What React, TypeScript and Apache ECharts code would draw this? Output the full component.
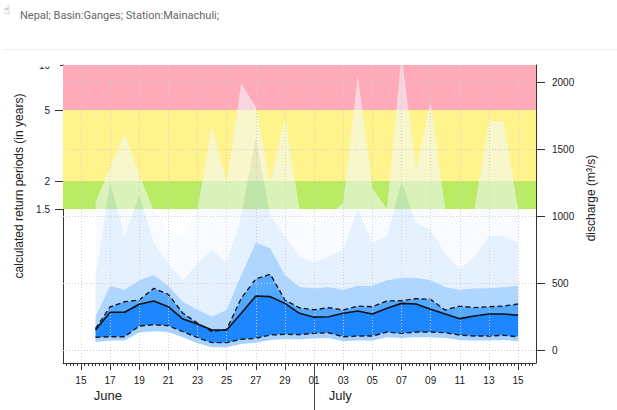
import React, { useEffect, useRef } from 'react';
import * as echarts from 'echarts';

// ---- Text ----
const titleText = 'Nepal; Basin:Ganges; Station:Mainachuli;';
const leftAxisName = 'calculated return periods (in years)';
const rightAxisName = 'discharge (m³/s)';

// ---- X axis (days since 15 June) ----
const xMin = -1.23;
const xMax = 31.23;
const dayTickOffsets = [0, 2, 4, 6, 8, 10, 12, 14, 16, 18, 20, 22, 24, 26, 28, 30];
const dayTickLabels = ['15', '17', '19', '21', '23', '25', '27', '29', '01', '03', '05', '07', '09', '11', '13', '15'];
const monthNames = ['June', 'July'];
const monthLabelOffsets = [1.85, 17.8];
const monthBoundaries = [16];

// ---- Y axes ----
const yMin = -97;
const yMax = 2127;
const dischargeTicks = [0, 500, 1000, 1500, 2000];
const returnPeriods = ['1.5', '2', '5', '10'];
const returnPeriodDischarge = [1052, 1261, 1791, 2127];
const zoneColors = ['#b9ea64', '#fff38c', '#ffaab8'];

// ---- Forecast (daily, 16 June .. 15 July) ----
const firstForecastDay = 1;
const qMin = [60, 70, 70, 130, 140, 135, 95, 50, 20, 20, 45, 55, 75, 80, 80, 85, 90, 65, 70, 70, 95, 90, 95, 95, 90, 75, 70, 70, 75, 65];
const q25 = [95, 99, 99, 179, 189, 181, 137, 92, 55, 55, 80, 87, 112, 117, 115, 124, 129, 99, 104, 104, 134, 124, 134, 134, 129, 112, 104, 104, 110, 99];
const q50 = [149, 282, 282, 341, 366, 323, 231, 194, 149, 149, 274, 403, 398, 348, 274, 245, 248, 274, 291, 269, 311, 348, 343, 304, 269, 234, 254, 269, 269, 259];
const q75 = [160, 321, 360, 373, 460, 415, 274, 201, 137, 154, 386, 530, 565, 373, 315, 300, 316, 298, 328, 323, 366, 368, 383, 378, 298, 328, 316, 323, 328, 343];
const q90 = [250, 480, 450, 520, 560, 480, 360, 300, 250, 300, 560, 800, 760, 560, 470, 460, 470, 450, 480, 480, 520, 540, 540, 520, 470, 450, 460, 460, 470, 480];
const q95 = [550, 1246, 850, 1157, 800, 650, 520, 650, 750, 650, 1000, 1580, 1000, 850, 700, 650, 700, 750, 1050, 800, 850, 1250, 950, 900, 720, 600, 700, 850, 850, 800];
const qMax = [1107, 1360, 1617, 1310, 1040, 900, 850, 1050, 1679, 1250, 1990, 1816, 1256, 1729, 1050, 900, 1000, 1100, 2052, 1209, 1050, 2200, 1358, 1853, 1050, 950, 1050, 1703, 1711, 1050];

// ---- Observation ----
const observedDay = [0];
const observedDischarge = [117];

const bandColors = [
  'rgba(130,190,255,0.7)',
  '#1e87ff',
  '#55a8ff',
  'rgba(120,186,255,0.6)',
  'rgba(200,225,255,0.45)',
  'rgba(242,247,255,0.55)',
];

function labelFrom(values: number[], labels: string[]) {
  return (v: number) => {
    const i = values.findIndex((x) => Math.abs(x - v) < 1e-6);
    return i >= 0 ? labels[i] : '';
  };
}

export default function App() {
  const ref = useRef<HTMLDivElement>(null);

  useEffect(() => {
    if (!ref.current) return;
    const chart = echarts.init(ref.current, null, { renderer: 'svg' });

    const xs = q50.map((_, i) => firstForecastDay + i);
    const layers = [qMin, q25, q50, q75, q90, q95, qMax];
    const bounds: number[][] = [];
    layers.forEach((arr, k) => {
      bounds.push(arr.map((v, i) => (k === 0 ? v : Math.max(v, bounds[k - 1][i]))));
    });

    const minorTicks: number[] = [];
    for (let t = -1; t <= 31.001; t += 0.25) minorTicks.push(Math.round(t * 100) / 100);

    const bandSeries: any[] = [];
    for (let k = 1; k < bounds.length; k++) {
      const fill = bandColors[k - 1];
      bandSeries.push({
        name: 'band' + k,
        type: 'custom',
        yAxisIndex: 1,
        clip: true,
        silent: true,
        z: 3,
        data: xs.map((x, i) => [x, bounds[k - 1][i], bounds[k][i]]),
        encode: { x: 0, y: [1, 2] },
        renderItem: (params: any, api: any) => {
          if (params.dataIndex !== 0) return null;
          const n = xs.length;
          const top: number[][] = [];
          const bottom: number[][] = [];
          for (let i = 0; i < n; i++) {
            const x = api.value(0, i);
            top.push(api.coord([x, api.value(2, i)]));
            bottom.push(api.coord([x, api.value(1, i)]));
          }
          const points = top.concat(bottom.reverse());
          return {
            type: 'polygon',
            shape: { points },
            style: { fill, stroke: 'none' },
          };
        },
      });
    }

    const axisColor = '#333';
    const font = 'Liberation Sans';

    const option: any = {
      animation: false,
      title: {
        text: titleText,
        left: 15,
        top: 5,
        textStyle: { fontSize: 11, fontWeight: 'normal', color: '#666', fontFamily: 'Roboto' },
      },
      graphic: [
        { type: 'text', left: 3, top: 4, style: { text: '☝', fontSize: 12, fill: '#777', fontFamily: 'DejaVu Sans' } },
        { type: 'line', shape: { x1: 3, y1: 49.5, x2: 617, y2: 49.5 }, style: { stroke: '#eeeeee', lineWidth: 1 } },
        { type: 'rect', shape: { x: 0, y: 51, width: 60, height: 15.5 }, style: { fill: '#ffffff' }, z: 100 },
      ],
      grid: { left: 63, right: 81, top: 65, bottom: 47 },
      xAxis: [
        {
          type: 'value',
          min: xMin,
          max: xMax,
          position: 'bottom',
          axisLine: { show: true, onZero: false, lineStyle: { color: axisColor } },
          axisTick: { show: true, customValues: dayTickOffsets, length: 7, lineStyle: { color: axisColor } },
          axisLabel: {
            customValues: dayTickOffsets,
            formatter: labelFrom(dayTickOffsets, dayTickLabels),
            fontSize: 10,
            color: '#222',
            margin: 12,
            fontFamily: font,
          },
          splitLine: { show: false },
        },
        {
          type: 'value',
          min: xMin,
          max: xMax,
          position: 'bottom',
          axisLine: { show: false, onZero: false },
          axisTick: { show: true, customValues: minorTicks, length: 3, lineStyle: { color: axisColor } },
          axisLabel: { show: false },
          splitLine: { show: false },
        },
        {
          type: 'value',
          min: xMin,
          max: xMax,
          position: 'bottom',
          axisLine: { show: false, onZero: false },
          axisTick: { show: true, customValues: monthBoundaries, length: 47, lineStyle: { color: '#444' } },
          axisLabel: {
            customValues: monthLabelOffsets,
            formatter: labelFrom(monthLabelOffsets, monthNames),
            fontSize: 13,
            color: '#222',
            margin: 26,
            fontFamily: font,
          },
          splitLine: { show: false },
        },
      ],
      yAxis: [
        {
          type: 'value',
          position: 'left',
          min: yMin,
          max: yMax,
          name: leftAxisName,
          nameLocation: 'middle',
          nameRotate: 90,
          nameGap: 35,
          nameTextStyle: { fontSize: 12, color: '#222', fontFamily: font, padding: [0, 0, 0, 56] },
          axisLine: { show: true, onZero: false, lineStyle: { color: axisColor } },
          axisTick: { show: true, customValues: returnPeriodDischarge, length: 8, lineStyle: { color: axisColor } },
          axisLabel: {
            customValues: returnPeriodDischarge,
            formatter: labelFrom(returnPeriodDischarge, returnPeriods),
            fontSize: 10,
            color: '#222',
            margin: 13,
            fontFamily: font,
          },
          splitLine: { show: false },
        },
        {
          type: 'value',
          position: 'right',
          min: yMin,
          max: yMax,
          name: rightAxisName,
          nameLocation: 'middle',
          nameRotate: 90,
          nameGap: 40,
          nameTextStyle: { fontSize: 12, color: '#222', fontFamily: font, padding: [0, 0, 0, 32] },
          axisLine: { show: true, onZero: false, lineStyle: { color: axisColor } },
          axisTick: { show: true, customValues: dischargeTicks, length: 9, lineStyle: { color: axisColor } },
          axisLabel: {
            customValues: dischargeTicks,
            formatter: (v: number) => String(v),
            fontSize: 10,
            color: '#222',
            margin: 16,
            fontFamily: font,
          },
          splitLine: { show: false },
        },
      ],
      series: [
        {
          name: 'zones',
          type: 'line',
          yAxisIndex: 1,
          data: [],
          silent: true,
          z: 1,
          markArea: {
            silent: true,
            data: zoneColors.map((c, i) => [
              { yAxis: returnPeriodDischarge[i], itemStyle: { color: c } },
              { yAxis: returnPeriodDischarge[i + 1] },
            ]),
          },
        },
        {
          name: 'gridlines',
          type: 'line',
          yAxisIndex: 1,
          data: [],
          silent: true,
          z: 2,
          markLine: {
            silent: true,
            symbol: ['none', 'none'],
            label: { show: false },
            lineStyle: { color: '#d0d0d0', type: [1, 2], width: 1 },
            data: [
              ...dayTickOffsets.map((d) => ({ xAxis: d })),
              ...dischargeTicks.map((d) => ({ yAxis: d })),
            ],
          },
        },
        ...bandSeries,
        {
          name: 'upper',
          type: 'line',
          yAxisIndex: 1,
          data: q75.map((v, i) => [xs[i], v]),
          showSymbol: false,
          symbol: 'none',
          lineStyle: { color: '#1a1a1a', width: 1.4, type: [5, 3] },
          z: 4,
        },
        {
          name: 'lower',
          type: 'line',
          yAxisIndex: 1,
          data: q25.map((v, i) => [xs[i], v]),
          showSymbol: false,
          symbol: 'none',
          lineStyle: { color: '#1a1a1a', width: 1.4, type: [5, 3] },
          z: 4,
        },
        {
          name: 'median',
          type: 'line',
          yAxisIndex: 1,
          data: q50.map((v, i) => [xs[i], v]),
          showSymbol: false,
          symbol: 'none',
          lineStyle: { color: '#111', width: 1.6 },
          z: 5,
        },
        {
          name: 'observed',
          type: 'scatter',
          yAxisIndex: 1,
          data: observedDay.map((d, i) => [d, observedDischarge[i]]),
          symbol: 'emptyCircle',
          symbolSize: 7,
          itemStyle: { color: '#fff', borderColor: '#555', borderWidth: 1 },
          z: 6,
        },
      ],
    };

    chart.setOption(option);
    return () => chart.dispose();
  }, []);

  return <div ref={ref} style={{ width: 617, height: 410, position: 'absolute', left: 0, top: 0 }} />;
}
